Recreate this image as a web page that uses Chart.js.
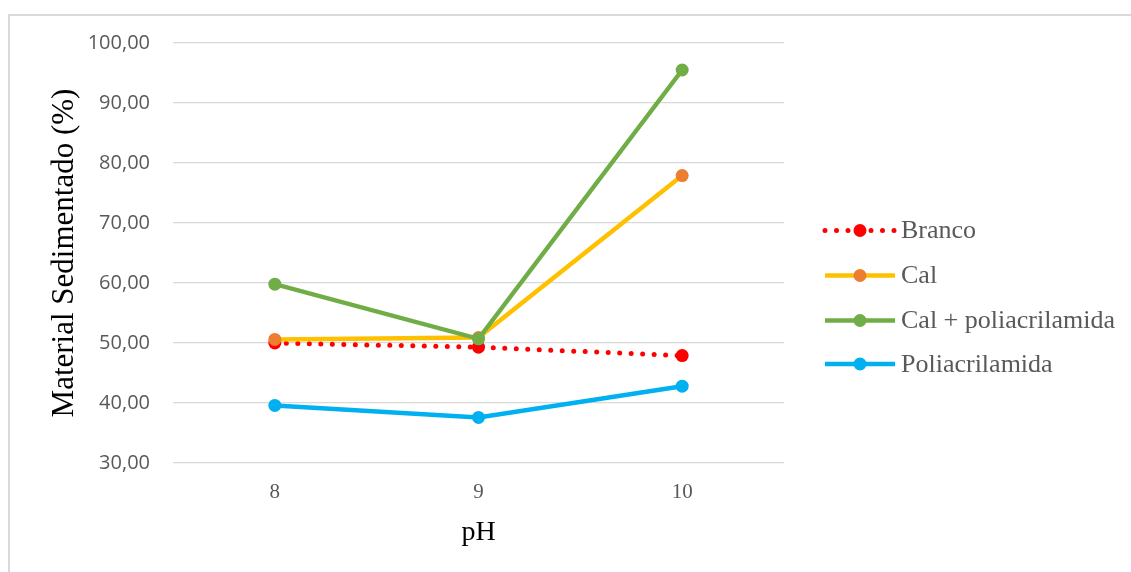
<!DOCTYPE html>
<html>
<head>
<meta charset="utf-8">
<script src="https://cdn.jsdelivr.net/npm/chart.js@4"></script>
<style>
  html, body { margin: 0; padding: 0; background: #fff; }
  #frame {
    position: absolute; left: 8px; top: 14px;
    width: 1123px; height: 558px;
    border-left: 2px solid #d9d9d9; border-top: 2px solid #d9d9d9;
  }
  canvas { display: block; }
</style>
</head>
<body>
<div id="frame"><canvas id="chart" width="1121" height="556"></canvas></div>
<script>
// categories (pH) and series values, % of settled material
const phLabels = ['8', '9', '10'];
const branco = [50.0, 49.3, 47.9];
const cal = [50.6, 50.9, 77.9];
const calPoli = [59.8, 50.7, 95.5];
const poli = [39.6, 37.6, 42.8];
const seriesNames = ['Branco', 'Cal', 'Cal + poliacrilamida', 'Poliacrilamida'];

const fmt = v => v.toFixed(2).replace('.', ',');

// legend drawn on the right: line sample with a dot in the middle
const sideLegend = {
    id: 'sideLegend',
    afterDraw(chart) {
        const ctx = chart.ctx;
        const x0 = 815, x1 = 885, cx = 850, tx = 891;
        const rows = [214.5, 259.5, 304.5, 348];
        chart.data.datasets.forEach((ds, i) => {
            const y = rows[i];
            ctx.save();
            ctx.strokeStyle = ds.borderColor;
            ctx.lineWidth = ds.borderWidth;
            ctx.lineCap = ds.borderCapStyle || 'butt';
            ctx.setLineDash(ds.borderDash || []);
            ctx.beginPath();
            ctx.moveTo(x0, y);
            ctx.lineTo(x1, y);
            ctx.stroke();
            ctx.setLineDash([]);
            ctx.fillStyle = ds.pointBackgroundColor;
            ctx.beginPath();
            ctx.arc(cx, y, ds.pointRadius, 0, Math.PI * 2);
            ctx.fill();
            ctx.fillStyle = '#595959';
            ctx.font = '26px "Liberation Serif", "Times New Roman", serif';
            ctx.textBaseline = 'middle';
            ctx.textAlign = 'left';
            ctx.fillText(ds.label, tx, y + 1);
            ctx.restore();
        });
    }
};

const lineSet = (label, data, lineColor, dotColor, order) => ({
    label: label,
    data: data,
    borderColor: lineColor,
    borderWidth: 4.5,
    pointBackgroundColor: dotColor,
    pointBorderColor: dotColor,
    pointBorderWidth: 0,
    pointRadius: 6.5,
    pointHoverRadius: 6.5,
    order: order
});

const brancoSet = lineSet(seriesNames[0], branco, '#ff0000', '#ff0000', 4);
brancoSet.borderWidth = 5;
brancoSet.borderDash = [0, 11.5];
brancoSet.borderCapStyle = 'round';

new Chart(document.getElementById('chart'), {
    type: 'line',
    data: {
        labels: phLabels,
        datasets: [
            brancoSet,
            lineSet(seriesNames[1], cal, '#ffc000', '#ed7d31', 3),
            lineSet(seriesNames[2], calPoli, '#70ad47', '#70ad47', 2),
            lineSet(seriesNames[3], poli, '#00b0f0', '#00b0f0', 1)
        ]
    },
    options: {
        responsive: false,
        animation: false,
        devicePixelRatio: 1,
        layout: { padding: { left: 0, top: 27, right: 347, bottom: 22.6 } },
        elements: {
            line: { tension: 0 }
        },
        plugins: {
            legend: { display: false },
            tooltip: { enabled: false }
        },
        scales: {
            x: {
                offset: true,
                afterFit: s => { s.height = 86.4; },
                grid: { display: false, drawTicks: false },
                border: { display: false },
                ticks: {
                    padding: 17,
                    color: '#595959',
                    font: { family: '"Liberation Serif", "Times New Roman", serif', size: 21 }
                },
                title: {
                    display: true,
                    text: 'pH',
                    color: '#000',
                    padding: { top: 0, bottom: 0 },
                    font: { family: '"Liberation Serif", "Times New Roman", serif', size: 28 }
                }
            },
            y: {
                min: 30,
                max: 100,
                afterFit: s => {
                    s.width = 163;
                    s.paddingTop = 0;
                    s.paddingBottom = 0;
                },
                grid: { color: '#d9d9d9', lineWidth: 1.3, drawTicks: false },
                border: { display: false },
                ticks: {
                    stepSize: 10,
                    padding: 23,
                    color: '#595959',
                    font: { family: '"Open Sans", sans-serif', size: 20 },
                    callback: v => fmt(v)
                },
                title: {
                    display: true,
                    text: 'Material Sedimentado (%)',
                    color: '#000',
                    padding: { top: 36, bottom: 0 },
                    font: { family: '"Liberation Serif", "Times New Roman", serif', size: 31 }
                }
            }
        }
    },
    plugins: [sideLegend]
});
</script>
</body>
</html>
